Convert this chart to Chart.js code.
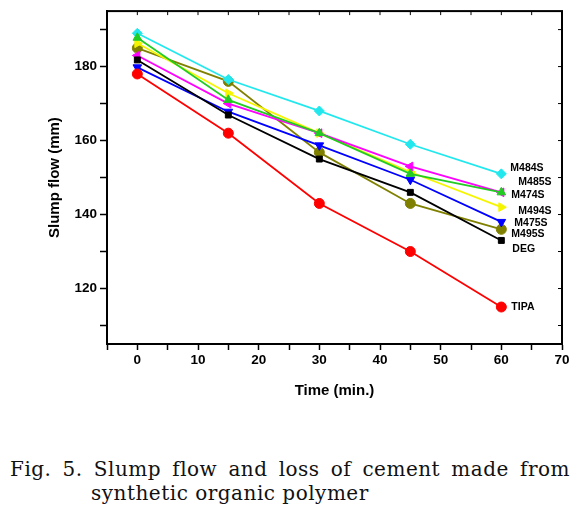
<!DOCTYPE html>
<html>
<head>
<meta charset="utf-8">
<script src="https://cdn.jsdelivr.net/npm/chart.js@4.4.0/dist/chart.umd.min.js"></script>
<style>
  body { margin: 0; background: #fff; }
  #wrap { position: relative; width: 587px; height: 420px; }
  #cap { margin-top: 37px; font-family: "DejaVu Serif", "Liberation Serif", serif; font-size: 20px; letter-spacing: 0.5px; line-height: 24px; color: #111; }
  #cap .l1 { margin-left: 10px; width: 560px; text-align: justify; text-align-last: justify; }
  #cap .l2 { margin-left: 91px; }
</style>
</head>
<body>
<div id="wrap"><canvas id="c"></canvas></div>
<div id="cap">
  <div class="l1">Fig. 5. Slump flow and loss of cement made from</div>
  <div class="l2">synthetic organic polymer</div>
</div>
<script>
const times = [0, 15, 30, 45, 60];
const seriesNames = ["DEG", "TIPA", "M474S", "M475S", "M484S", "M485S", "M494S", "M495S"];
const deg   = [181.8, 166.9, 155, 146, 133];
const tipa  = [178, 162, 143, 130, 115];
const m474s = [187.8, 171, 162, 151, 146];
const m475s = [179.8, 167.8, 158.7, 149.4, 138];
const m484s = [189, 176.5, 168, 159, 151];
const m485s = [183, 170, 162, 153, 146];
const m494s = [186.3, 172.8, 162, 151.5, 142];
const m495s = [185, 176, 156.8, 143, 136];
const xTicks = [0, 10, 20, 30, 40, 50, 60, 70];
const yTicks = [120, 140, 160, 180];

const colors = ["#000000", "#ff0000", "#22cc22", "#0000ff", "#22e8ee", "#ff00ff", "#f5f500", "#808000"];
const shapes = ["rect", "circle", "triangle", "triangle", "rectRot", "triangle", "triangle", "circle"];
const rotations = [0, 0, 0, 180, 0, -90, 90, 0];
// label offsets from the last point, pixels
const labelOffsets = [[11, 9], [10, 0], [10, 3], [13, 1], [9, -6], [17, -10], [17, 4], [10, 5]];

const allData = [deg, tipa, m474s, m475s, m484s, m485s, m494s, m495s];

const datasets = allData.map((vals, i) => ({
  label: seriesNames[i],
  data: times.map((t, j) => ({ x: t, y: vals[j] })),
  borderColor: colors[i],
  backgroundColor: colors[i],
  borderWidth: 1.8,
  pointStyle: shapes[i],
  rotation: rotations[i],
  pointRadius: shapes[i] === "rect" ? 4.2 : 5,
  pointBorderWidth: 1,
  tension: 0,
}));

const frame = {
  id: "frame",
  afterDraw(chart) {
    const { ctx, chartArea: a, scales } = chart;
    ctx.save();
    ctx.strokeStyle = "#000";
    ctx.lineWidth = 2;
    ctx.strokeRect(a.left, a.top, a.right - a.left, a.bottom - a.top);
    ctx.lineWidth = 1;
    scales.x.ticks.forEach(t => {
      const px = scales.x.getPixelForValue(t.value);
      ctx.beginPath(); ctx.moveTo(px, a.top); ctx.lineTo(px, a.top + 4); ctx.stroke();
    });
    scales.y.ticks.forEach(t => {
      if (t.value % 10 !== 0) return;
      const py = scales.y.getPixelForValue(t.value);
      ctx.beginPath(); ctx.moveTo(a.right, py); ctx.lineTo(a.right - 4, py); ctx.stroke();
    });
    // series names next to the last points
    ctx.font = "bold 10.5px 'Liberation Sans', Arial, sans-serif";
    ctx.fillStyle = "#000";
    ctx.textBaseline = "middle";
    chart.data.datasets.forEach((ds, i) => {
      const last = ds.data[ds.data.length - 1];
      const px = scales.x.getPixelForValue(last.x);
      const py = scales.y.getPixelForValue(last.y);
      ctx.fillText(ds.label, px + labelOffsets[i][0], py + labelOffsets[i][1]);
    });
    ctx.restore();
  }
};

const tickFont = { family: "'Liberation Sans', Arial, sans-serif", size: 13.5, weight: "bold" };
const titleFont = { family: "'Liberation Sans', Arial, sans-serif", size: 15, weight: "bold" };

new Chart(document.getElementById("c"), {
  type: "line",
  data: { datasets },
  options: {
    responsive: true,
    maintainAspectRatio: false,
    animation: false,
    layout: { padding: { top: 11, right: 25, left: 0, bottom: 0 } },
    plugins: { legend: { display: false }, tooltip: { enabled: false } },
    scales: {
      x: {
        type: "linear",
        min: -5,
        max: 70,
        ticks: {
          stepSize: 5,
          color: "#000",
          font: tickFont,
          padding: 2,
          maxRotation: 0,
          autoSkip: false,
          callback: v => (xTicks.includes(v) ? String(v) : ""),
        },
        grid: { drawOnChartArea: false, tickLength: 6, tickColor: "#000", tickWidth: 1.5 },
        border: { color: "#000", width: 2 },
        title: { display: true, text: "Time (min.)", color: "#000", font: titleFont, padding: { top: 4, bottom: 20 } },
        afterFit: s => { s.height = 76; },
      },
      y: {
        type: "linear",
        min: 105,
        max: 195,
        ticks: {
          stepSize: 5,
          maxTicksLimit: 40,
          color: "#000",
          font: tickFont,
          padding: 3,
          autoSkip: false,
          callback: v => (yTicks.includes(v) ? String(v) : ""),
        },
        grid: {
          drawOnChartArea: false,
          tickLength: 7,
          tickWidth: 1.5,
          tickColor: c => (c.tick && c.tick.value % 10 === 0 ? "#000" : "rgba(0,0,0,0)"),
        },
        border: { color: "#000", width: 2 },
        title: { display: true, text: "Slump flow (mm)", color: "#000", font: titleFont, padding: { top: 46, bottom: 46 } },
        afterFit: s => { s.width = 107; },
      },
    },
  },
  plugins: [frame],
});
</script>
</body>
</html>
